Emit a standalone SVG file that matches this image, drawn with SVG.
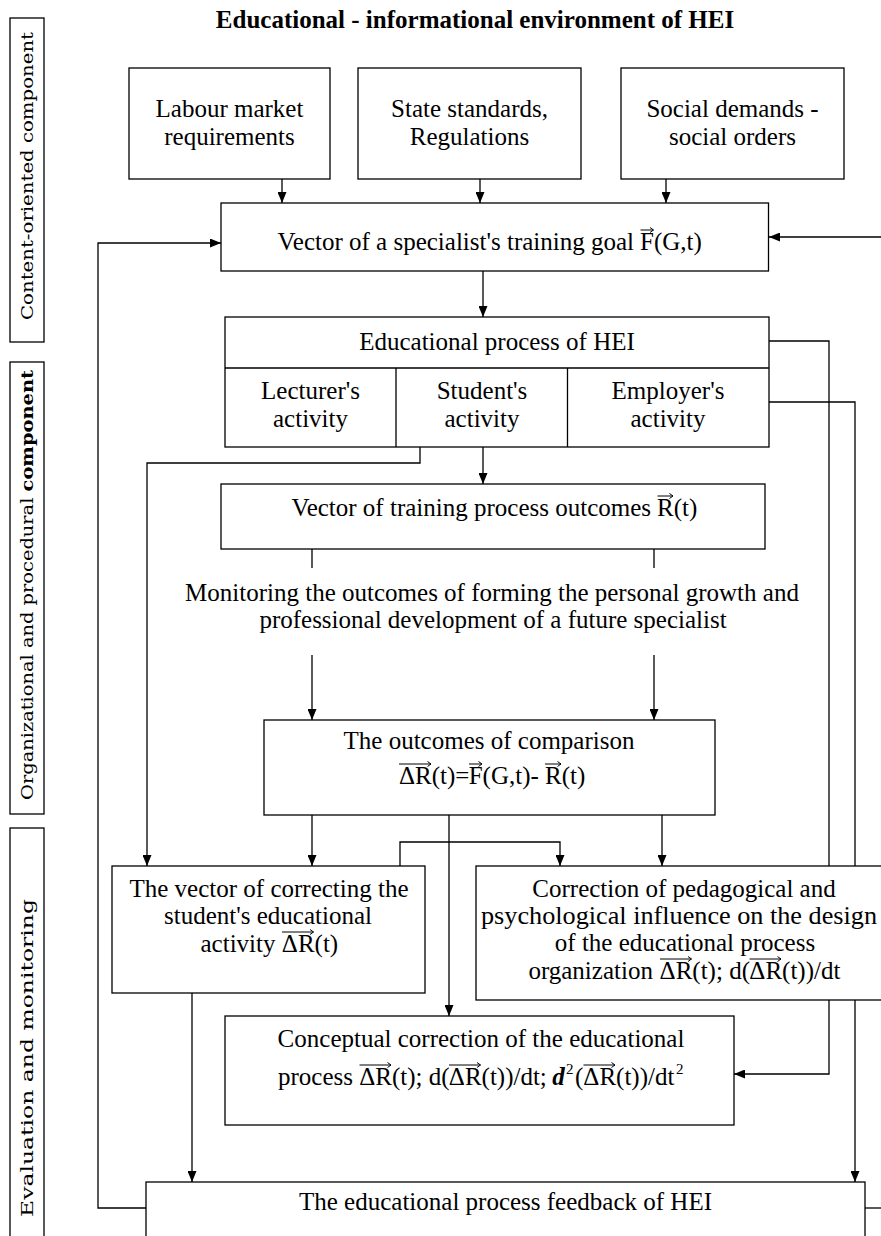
<svg xmlns="http://www.w3.org/2000/svg" width="881" height="1236" viewBox="0 0 881 1236">
<style>
.box{fill:#fff;stroke:#000;stroke-width:1.3}
.ln{fill:none;stroke:#000;stroke-width:1.3}
.vec{fill:none;stroke:#000;stroke-width:1}
.t{font-family:"Liberation Serif","Times New Roman",serif;font-size:25px;fill:#000}
.c{text-anchor:middle}
.e{text-anchor:end}
.b{font-weight:bold}
.side{font-family:"DejaVu Serif","Liberation Serif",serif;font-size:16px;fill:#000;text-anchor:middle}
</style>
<defs>
<marker id="ah" viewBox="0 0 11 9" refX="11" refY="4.5" markerWidth="11" markerHeight="9" markerUnits="userSpaceOnUse" orient="auto"><path d="M0,0 L11,4.5 L0,9 z" fill="#000"/></marker>
</defs>
<rect width="881" height="1236" fill="#fff"/>

<g id="connectors">
<path class="ln" d="M282,179 V203" marker-end="url(#ah)"/>
<path class="ln" d="M480,179 V203" marker-end="url(#ah)"/>
<path class="ln" d="M666,179 V203" marker-end="url(#ah)"/>
<path class="ln" d="M881,237 H769" marker-end="url(#ah)"/>
<path class="ln" d="M146,1208 H98 V243 H221" marker-end="url(#ah)"/>
<path class="ln" d="M483,271 V317" marker-end="url(#ah)"/>
<path class="ln" d="M769,341 H829 V1074 H734" marker-end="url(#ah)"/>
<path class="ln" d="M769,402 H855 V1182" marker-end="url(#ah)"/>
<path class="ln" d="M420,447 V463 H147 V866" marker-end="url(#ah)"/>
<path class="ln" d="M483,447 V484" marker-end="url(#ah)"/>
<path class="ln" d="M312,549 V568 M654,549 V568"/>
<path class="ln" d="M312,655 V720" marker-end="url(#ah)"/>
<path class="ln" d="M654,655 V720" marker-end="url(#ah)"/>
<path class="ln" d="M312,815 V866" marker-end="url(#ah)"/>
<path class="ln" d="M449,815 V1016" marker-end="url(#ah)"/>
<path class="ln" d="M662,815 V866" marker-end="url(#ah)"/>
<path class="ln" d="M400,866 V842 H560 V866" marker-end="url(#ah)"/>
<path class="ln" d="M192,993 V1182" marker-end="url(#ah)"/>
<path class="ln" d="M865,1208 H881"/>
</g>

<g id="title">
<text class="t b c" x="475" y="28">Educational - informational environment of HEI</text>
</g>

<g id="side-content">
<rect class="box" x="10" y="18" width="34" height="324"/>
<text class="side" transform="translate(33,176) rotate(-90)" textLength="288" lengthAdjust="spacingAndGlyphs">Content-oriented component</text>
</g>
<g id="side-organizational">
<rect class="box" x="10" y="362" width="34" height="452"/>
<text class="side" transform="translate(33,585) rotate(-90)" textLength="430" lengthAdjust="spacingAndGlyphs">Organizational and procedural <tspan font-weight="bold">component</tspan></text>
</g>
<g id="side-evaluation">
<rect class="box" x="10" y="828" width="34" height="420"/>
<text class="side" transform="translate(33,1058) rotate(-90)" textLength="318" lengthAdjust="spacingAndGlyphs">Evaluation and monitoring</text>
</g>

<g id="labour">
<rect class="box" x="129" y="68" width="201" height="111"/>
<text class="t c" x="229.5" y="117">Labour market</text>
<text class="t c" x="229.5" y="145">requirements</text>
</g>
<g id="state">
<rect class="box" x="358" y="68" width="223" height="111"/>
<text class="t c" x="469.5" y="117">State standards,</text>
<text class="t c" x="469.5" y="145">Regulations</text>
</g>
<g id="social">
<rect class="box" x="621" y="68" width="223" height="111"/>
<text class="t c" x="732.5" y="117">Social demands -</text>
<text class="t c" x="732.5" y="145">social orders</text>
</g>

<g id="goal">
<rect class="box" x="221" y="203" width="547.5" height="68"/>
<text class="t e" x="634" y="250">Vector of a specialist's training goal</text>
<text class="t" x="640" y="250">F(G,t)</text>
<path class="vec" d="M640.5,230 H653.5 M650,227.5 L653.5,230 L650,232.5"/>
</g>

<g id="edu-process">
<rect class="box" x="225" y="317" width="544" height="130"/>
<path class="ln" d="M225,368 H769 M396,368 V447 M567.5,368 V447"/>
<text class="t c" x="497" y="350">Educational process of HEI</text>
<text class="t c" x="310.5" y="399">Lecturer's</text>
<text class="t c" x="310.5" y="427">activity</text>
<text class="t c" x="482" y="399">Student's</text>
<text class="t c" x="482" y="427">activity</text>
<text class="t c" x="668" y="399">Employer's</text>
<text class="t c" x="668" y="427">activity</text>
</g>

<g id="outcomes">
<rect class="box" x="221" y="484" width="544" height="65"/>
<text class="t e" x="651" y="516">Vector of training process outcomes</text>
<text class="t" x="657" y="516">R(t)</text>
<path class="vec" d="M657.5,496 H673 M669.5,493.5 L673,496 L669.5,498.5"/>
</g>

<g id="monitoring">
<text class="t c" x="492" y="601">Monitoring the outcomes of forming the personal growth and</text>
<text class="t c" x="493" y="628">professional development of a future specialist</text>
</g>

<g id="comparison">
<rect class="box" x="264" y="720" width="451" height="95"/>
<text class="t c" x="489" y="749">The outcomes of comparison</text>
<text class="t" x="399" y="784">ΔR(t)=<tspan x="468.7">F</tspan>(G,t)- <tspan x="545">R</tspan>(t)</text>
<path class="vec" d="M399,764 H431 M427.5,761.5 L431,764 L427.5,766.5"/>
<path class="vec" d="M469,764 H482 M478.5,761.5 L482,764 L478.5,766.5"/>
<path class="vec" d="M545,764 H561 M557.5,761.5 L561,764 L557.5,766.5"/>
</g>

<g id="student-correction">
<rect class="box" x="112" y="866" width="313" height="127"/>
<text class="t c" x="269" y="897">The vector of correcting the</text>
<text class="t c" x="268" y="924">student's educational</text>
<text class="t" x="200.5" y="952">activity <tspan x="281.8">Δ</tspan>R(t)</text>
<path class="vec" d="M282,932 H313.5 M310,929.5 L313.5,932 L310,934.5"/>
</g>

<g id="pedagogical-correction">
<rect class="box" x="476" y="866" width="420" height="134"/>
<text class="t c" x="684" y="897">Correction of pedagogical and</text>
<text class="t c" x="679" y="924" textLength="396" lengthAdjust="spacingAndGlyphs">psychological influence on the design</text>
<text class="t c" x="685" y="951">of the educational process</text>
<text class="t" x="528.4" y="979">organization <tspan x="659.6">Δ</tspan>R(t); d(<tspan x="749.3">Δ</tspan>R(t))/dt</text>
<path class="vec" d="M660,959 H691.5 M688,956.5 L691.5,959 L688,961.5"/>
<path class="vec" d="M749.5,959 H781 M777.5,956.5 L781,959 L777.5,961.5"/>
</g>

<g id="conceptual-correction">
<rect class="box" x="225" y="1016" width="509" height="109"/>
<text class="t c" x="481" y="1047">Conceptual correction of the educational</text>
<text class="t" x="278" y="1085">process <tspan x="359.2">Δ</tspan>R(t); d(<tspan x="448.8">Δ</tspan>R(t))/dt; <tspan x="552.3" font-style="italic" font-weight="bold">d</tspan><tspan x="566" y="1074" font-size="15">2</tspan><tspan x="575" y="1085">(</tspan><tspan x="583.3">Δ</tspan>R(t))/dt<tspan x="676" y="1074" font-size="15">2</tspan></text>
<path class="vec" d="M359.5,1065 H391 M387.5,1062.5 L391,1065 L387.5,1067.5"/>
<path class="vec" d="M449,1065 H480.5 M477,1062.5 L480.5,1065 L477,1067.5"/>
<path class="vec" d="M583.5,1065 H615 M611.5,1062.5 L615,1065 L611.5,1067.5"/>
</g>

<g id="feedback">
<rect class="box" x="146" y="1182" width="719" height="70"/>
<text class="t c" x="505.5" y="1210">The educational process feedback of HEI</text>
</g>
</svg>
